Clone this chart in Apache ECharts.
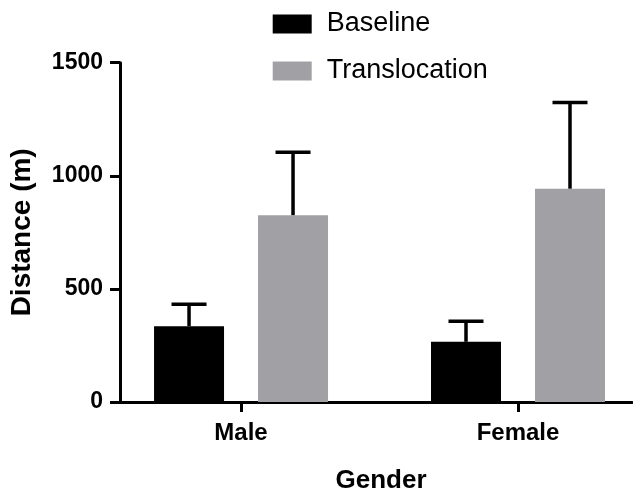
<!DOCTYPE html>
<html>
<head>
<meta charset="utf-8">
<script src="https://cdn.jsdelivr.net/npm/echarts@6/dist/echarts.min.js"></script>
<style>html,body{margin:0;padding:0;background:#fff;}#c{width:633px;height:499px;}</style>
</head>
<body>
<div id="c"></div>
<script>
var categories = ['Male', 'Female'];
var seriesNames = ['Baseline', 'Translocation'];
var baseline = [335, 266];
var baselineSD = [97, 91];
var translocation = [826, 943];
var translocationSD = [278, 381];
var yTicks = [0, 500, 1000, 1500];

var BAR_W = 70, BAR_GAP = 34;
var FONT = '"Liberation Sans", Arial, Helvetica, sans-serif';

var positions = categories.map(function (c, i) { return i + 1; });

function barData(vals) {
  return vals.map(function (v, i) { return [positions[i], v]; });
}
function errData(vals, sds) {
  return vals.map(function (v, i) { return [positions[i], v, v + sds[i]]; });
}
function errRender(offset) {
  return function (params, api) {
    var p0 = api.coord([api.value(0), api.value(1)]);
    var p1 = api.coord([api.value(0), api.value(2)]);
    var cx = p0[0] + offset;
    var style = { stroke: '#000', lineWidth: 3.5, lineCap: 'butt' };
    return {
      type: 'group',
      children: [
        { type: 'line', shape: { x1: cx, y1: p0[1], x2: cx, y2: p1[1] }, style: style },
        { type: 'line', shape: { x1: cx - 17.5, y1: p1[1], x2: cx + 17.5, y2: p1[1] }, style: style }
      ]
    };
  };
}

var chart = echarts.init(document.getElementById('c'));
var off = (BAR_W + BAR_GAP) / 2;
chart.setOption({
  animation: false,
  backgroundColor: '#ffffff',
  grid: { left: 120, right: 1, top: 62.7, bottom: 90.7, containLabel: false },
  legend: {
    data: seriesNames,
    orient: 'vertical',
    left: 267.7,
    top: 5.5,
    itemWidth: 39,
    itemHeight: 19,
    itemGap: 20,
    icon: 'rect',
    textStyle: { fontFamily: FONT, fontSize: 27, color: '#000', lineHeight: 27, padding: [0, 0, 0, 10] }
  },
  xAxis: {
    type: 'value',
    min: 0.563,
    max: 2.4116,
    splitLine: { show: false },
    axisLine: { show: true, onZero: false, lineStyle: { color: '#000', width: 3 } },
    axisTick: { show: true, length: 10, lineStyle: { color: '#000', width: 3 }, customValues: positions },
    axisLabel: {
      customValues: positions,
      margin: 19,
      fontFamily: FONT, fontSize: 24, fontWeight: 'bold', color: '#000',
      formatter: function (v) { return categories[Math.round(v) - 1] || ''; }
    },
    name: 'Gender',
    nameLocation: 'middle',
    nameGap: 66,
    nameTextStyle: { fontFamily: FONT, fontSize: 26, fontWeight: 'bold', color: '#000', padding: [0, 0, 0, 10] }
  },
  yAxis: {
    type: 'value',
    min: 0,
    max: 1500,
    interval: 500,
    splitLine: { show: false },
    axisLine: { show: true, lineStyle: { color: '#000', width: 3 } },
    axisTick: { show: true, length: 10, lineStyle: { color: '#000', width: 3 } },
    axisLabel: {
      margin: 17,
      fontFamily: FONT, fontSize: 23, fontWeight: 'bold', color: '#000',
      formatter: function (v) { return yTicks.indexOf(v) >= 0 ? String(v) : ''; }
    },
    name: 'Distance (m)',
    nameLocation: 'middle',
    nameGap: 84,
    nameTextStyle: { fontFamily: FONT, fontSize: 28, fontWeight: 'bold', color: '#000' }
  },
  series: [
    {
      name: seriesNames[0], type: 'bar', data: barData(baseline),
      barWidth: BAR_W, barGap: (BAR_GAP / BAR_W * 100) + '%',
      itemStyle: { color: '#000000' }
    },
    {
      name: seriesNames[1], type: 'bar', data: barData(translocation),
      barWidth: BAR_W,
      itemStyle: { color: '#a1a0a5' }
    },
    {
      type: 'custom', name: 'errB', data: errData(baseline, baselineSD),
      renderItem: errRender(-off), z: 5, silent: true
    },
    {
      type: 'custom', name: 'errT', data: errData(translocation, translocationSD),
      renderItem: errRender(off), z: 5, silent: true
    }
  ]
});
</script>
</body>
</html>
